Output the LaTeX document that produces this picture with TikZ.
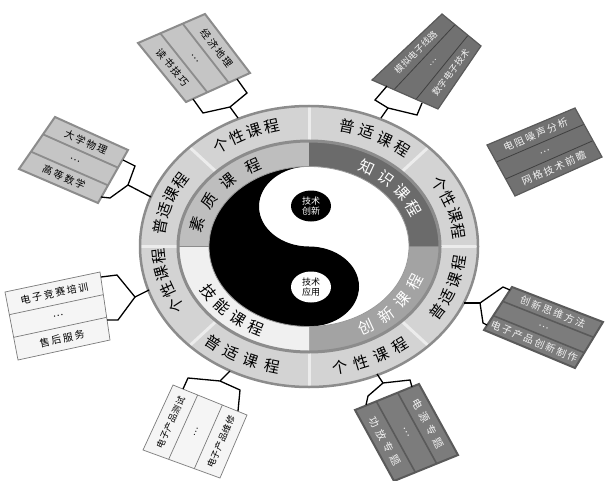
\documentclass[tikz,border=0pt]{standalone}
\usepackage{fontspec}
\setmainfont{Noto Sans CJK SC}
\newfontfamily\cardfont[LetterSpace=18]{Noto Sans CJK SC}
\newfontfamily\cardfontw[LetterSpace=40]{Noto Sans CJK SC}
\newfontfamily\cardfontn[LetterSpace=4]{Noto Sans CJK SC}
\usetikzlibrary{calc,shapes.geometric}

\definecolor{ringfill}{HTML}{D3D3D3}
\definecolor{ringline}{HTML}{8C8C8C}
\definecolor{segline}{HTML}{ECECEC}
\definecolor{suzhi}{HTML}{BEBEBE}
\definecolor{zhishi}{HTML}{6B6B6B}
\definecolor{chuangxin}{HTML}{A3A3A3}
\definecolor{jineng}{HTML}{F0F0F0}
\definecolor{cardlight}{HTML}{C5C5C5}
\definecolor{cardlightb}{HTML}{8C8C8C}
\definecolor{carddark}{HTML}{717171}
\definecolor{carddarkb}{HTML}{5A5A5A}
\definecolor{cardwhite}{HTML}{F5F5F5}
\definecolor{cardwhiteb}{HTML}{7A7A7A}
\definecolor{cardmid}{HTML}{7C7C7C}
\definecolor{txtlight}{HTML}{F2F2F2}

\tikzset{
  ringlbl/.style={inner sep=0pt, font=\fontsize{15.5}{15.5}\selectfont},
  midlbl/.style={inner sep=0pt, font=\fontsize{15.5}{15.5}\selectfont},
  cardtxt/.style={inner sep=0pt, font=\cardfont\fontsize{10}{10}\selectfont},
  cardtxtw/.style={inner sep=0pt, font=\cardfontw\fontsize{10.5}{10.5}\selectfont},
  cardtxtn/.style={inner sep=0pt, font=\cardfontn\fontsize{9}{9}\selectfont},
  brk/.style={draw=black, line width=1.3pt, line join=miter},
  lightbox/.style={fill=cardlight, draw=cardlightb, line width=2pt},
  lightdiv/.style={draw=cardlightb, line width=1.8pt},
  darkbox/.style={fill=carddark, draw=carddarkb, line width=1.2pt},
  darkdiv/.style={draw=black!75, line width=0.8pt},
  midbox/.style={fill=cardmid, draw=carddarkb, line width=2pt},
  middiv/.style={draw=carddarkb, line width=1.6pt},
  whitebox/.style={fill=cardwhite, draw=cardwhiteb, line width=0.7pt},
  whitediv/.style={draw=cardwhiteb, line width=0.7pt},
}

% #1 rx, #2 ry, #3 centre angle, #4 step, #5 dir, #6 style, #7 chars, #8 name
\newcommand{\arclabel}[8]{%
  \foreach \ch [count=\i from 0] in {#7} {
    \pgfmathsetmacro{\ang}{#3+(#5)*(\i-1.5)*(#4)}
    \pgfmathsetmacro{\nang}{-(\ang)}
    \pgfmathsetmacro{\rot}{atan2((#5)*(#2)*cos(\ang), -(#5)*(#1)*sin(\ang))}
    \node[#6, rotate=\rot] (#8-\i) at ($(O)+(\nang:#1 and #2)$) {\ch};
  }
}

% #1 name, #2 box style, #3 divider style, #4 text style, #5 text 1, #6 text 3
\newcommand{\cardbox}[6]{%
  \path[#2, draw=none] (#1-1) -- (#1-2) -- (#1-3) -- (#1-4) -- cycle;
  \foreach \k in {1,2} {\draw[#3] ($(#1-1)!\k/3!(#1-2)$) -- ($(#1-4)!\k/3!(#1-3)$);}
  \path[#2, fill=none] (#1-1) -- (#1-2) -- (#1-3) -- (#1-4) -- cycle;
  \path ($(#1-1)!1/6!(#1-2)$) -- ($(#1-4)!1/6!(#1-3)$) node[midway, sloped, #4] (#1-t1) {#5};
  \path ($(#1-1)!1/2!(#1-2)$) -- ($(#1-4)!1/2!(#1-3)$) node[midway, sloped, #4] (#1-t2) {…};
  \path ($(#1-1)!5/6!(#1-2)$) -- ($(#1-4)!5/6!(#1-3)$) node[midway, sloped, #4] (#1-t3) {#6};
}

\newcommand{\bracketlines}[1]{%
  \draw[brk] (#1-p1) -- (#1-q1) -- (#1-m) -- (#1-q2) -- (#1-p2);
  \draw[brk] (#1-m) -- (#1-r);
}

\begin{document}
\begin{tikzpicture}[x=1pt,y=-1pt]
\fill[white] (0,0) rectangle (607,481);
\useasboundingbox (0,0) rectangle (607,481);
\coordinate (O) at (309,246.5);

% ---------- rings ----------
\fill[ringfill] (O) ellipse[x radius=169, y radius=140.5];
\fill[suzhi] (O) -- ++(-90:131 and 105.5) arc[start angle=-90, end angle=-180, x radius=131, y radius=105.5] -- cycle;
\fill[zhishi] (O) -- ++(0:131 and 105.5) arc[start angle=0, end angle=-90, x radius=131, y radius=105.5] -- cycle;
\fill[chuangxin] (O) -- ++(0:131 and 105.5) arc[start angle=0, end angle=90, x radius=131, y radius=105.5] -- cycle;
\fill[jineng] (O) -- ++(90:131 and 105.5) arc[start angle=90, end angle=180, x radius=131, y radius=105.5] -- cycle;

% ---------- yin-yang ----------
\fill[white] (O) ellipse[x radius=100, y radius=80];
\fill[black] (309,166.5) arc[start angle=-90, end angle=-270, x radius=100, y radius=80]
  arc[start angle=90, end angle=-90, x radius=50, y radius=40]
  arc[start angle=90, end angle=270, x radius=50, y radius=40] -- cycle;

% dividers
\foreach \t in {0,180}
  \draw[ringline, line width=1.5pt] ($(O)+(\t:100 and 80)$) -- ($(O)+(\t:131 and 105.5)$);
\foreach \t in {0,45,...,315}
  \draw[segline, line width=3pt] ($(O)+(\t:131 and 105.5)$) -- ($(O)+(\t:169 and 140.5)$);

\draw[ringline, line width=2.5pt] (O) ellipse[x radius=169, y radius=140.5];
\draw[ringline, line width=3pt] (O) ellipse[x radius=131, y radius=105.5];
\draw[black!40, line width=0.8pt] (O) ellipse[x radius=100, y radius=80];

% ---------- ring labels ----------
\arclabel{151}{124}{114.9}{7.0}{-1}{ringlbl}{个,性,课,程}{oa}
\arclabel{151}{124}{63.8}{7.8}{-1}{ringlbl}{普,适,课,程}{ob}
\arclabel{151}{124}{18.6}{7.6}{-1}{ringlbl}{个,性,课,程}{oc}
\arclabel{151}{124}{-19.8}{8.0}{1}{ringlbl}{普,适,课,程}{od}
\arclabel{151}{124}{-65.5}{8.4}{1}{ringlbl}{个,性,课,程}{oe}
\arclabel{151}{124}{243.3}{8.3}{1}{ringlbl}{普,适,课,程}{of}
\arclabel{151}{124}{196.6}{7.9}{-1}{ringlbl}{个,性,课,程}{og}
\arclabel{151}{124}{159.4}{7.6}{-1}{ringlbl}{普,适,课,程}{oh}

\arclabel{115}{92}{142.5}{15.5}{-1}{midlbl}{素,质,课,程}{ma}
\arclabel{115}{92}{42.2}{11.8}{-1}{midlbl, text=white}{知,识,课,程}{mb}
\arclabel{115}{92}{-41.7}{12.5}{1}{midlbl, text=white}{创,新,课,程}{mc}
\arclabel{115}{92}{226.2}{11}{1}{midlbl}{技,能,课,程}{md}

% ---------- dots ----------
\node[ellipse, fill=black, minimum width=40pt, minimum height=31pt, inner sep=0pt,
  text=white, align=center, font=\fontsize{9}{10.5}\selectfont] (dotA) at (311,206) {技术\\创新};
\node[ellipse, fill=white, minimum width=40pt, minimum height=31pt, inner sep=0pt,
  text=black, align=center, font=\fontsize{9}{10.5}\selectfont] (dotB) at (311,287) {技术\\应用};

% ---------- cards ----------
\coordinate (A-1) at (138,43);  \coordinate (A-2) at (205,14);  \coordinate (A-3) at (250,73);  \coordinate (A-4) at (186,102);
\coordinate (B-1) at (372,80);  \coordinate (B-2) at (438,109); \coordinate (B-3) at (481,46);  \coordinate (B-4) at (442,14);
\coordinate (C-1) at (487,145); \coordinate (C-2) at (515,196); \coordinate (C-3) at (602,157); \coordinate (C-4) at (575,108);
\coordinate (D-1) at (55,117);  \coordinate (D-2) at (19,169);  \coordinate (D-3) at (98,203);  \coordinate (D-4) at (128,150);
\coordinate (E-1) at (5,292);   \coordinate (E-2) at (18,360);  \coordinate (E-3) at (110,340); \coordinate (E-4) at (100,272);
\coordinate (F-1) at (512,287); \coordinate (F-2) at (484,330); \coordinate (F-3) at (575,368); \coordinate (F-4) at (603,322);
\coordinate (G-1) at (143,450); \coordinate (G-2) at (220,478); \coordinate (G-3) at (247,415); \coordinate (G-4) at (173,385);
\coordinate (H-1) at (355,410); \coordinate (H-2) at (419,384); \coordinate (H-3) at (458,455); \coordinate (H-4) at (394,481);

\cardbox{A}{lightbox}{lightdiv}{cardtxt}{读书技巧}{经济地理}
\cardbox{B}{darkbox}{darkdiv}{cardtxtn, text=txtlight}{模拟电子线路}{数字电子技术}
\cardbox{C}{darkbox}{darkdiv}{cardtxt, text=txtlight}{电阻噪声分析}{网格技术前瞻}
\cardbox{D}{lightbox}{lightdiv}{cardtxt}{大学物理}{高等数学}
\cardbox{E}{whitebox}{whitediv}{cardtxt}{电子竞赛培训}{售后服务}
\cardbox{F}{midbox}{middiv}{cardtxt, text=txtlight}{创新思维方法}{电子产品创新制作}
\cardbox{G}{whitebox}{whitediv}{cardtxtn}{电子产品测试}{电子产品维修}
\cardbox{H}{midbox}{middiv}{cardtxtw, text=txtlight}{功放专题}{电源专题}

% ---------- brackets ----------
\coordinate (A-p1) at (193,99);  \coordinate (A-q1) at (203,113); \coordinate (A-m) at (230,107); \coordinate (A-q2) at (247,93);  \coordinate (A-p2) at (237,79);  \coordinate (A-r) at (238,118);
\coordinate (B-p1) at (387,86);  \coordinate (B-q1) at (375,100); \coordinate (B-m) at (388,108); \coordinate (B-q2) at (417,115); \coordinate (B-p2) at (422,103); \coordinate (B-r) at (381,118);
\coordinate (D-p1) at (123,160); \coordinate (D-q1) at (135,166); \coordinate (D-m) at (128,185); \coordinate (D-q2) at (110,198); \coordinate (D-p2) at (101,197); \coordinate (D-r) at (151,197);
\coordinate (E-p1) at (101,277); \coordinate (E-q1) at (117,275); \coordinate (E-m) at (135,297); \coordinate (E-q2) at (118,320); \coordinate (E-p2) at (107,320); \coordinate (E-r) at (149,290);
\coordinate (F-p1) at (510,290); \coordinate (F-q1) at (503,287); \coordinate (F-m) at (480,303); \coordinate (F-q2) at (483,323); \coordinate (F-p2) at (487,325); \coordinate (F-r) at (464,303);
\coordinate (G-p1) at (183,389); \coordinate (G-q1) at (188,378); \coordinate (G-m) at (220,381); \coordinate (G-q2) at (240,390); \coordinate (G-p2) at (238,411); \coordinate (G-r) at (230,371);
\coordinate (H-p1) at (366,405); \coordinate (H-q1) at (368,396); \coordinate (H-m) at (383,383); \coordinate (H-q2) at (410,380); \coordinate (H-p2) at (412,387); \coordinate (H-r) at (377,374);

\foreach \b in {A,B,D,E,F,G,H} { \bracketlines{\b} }
\end{tikzpicture}
\end{document}
